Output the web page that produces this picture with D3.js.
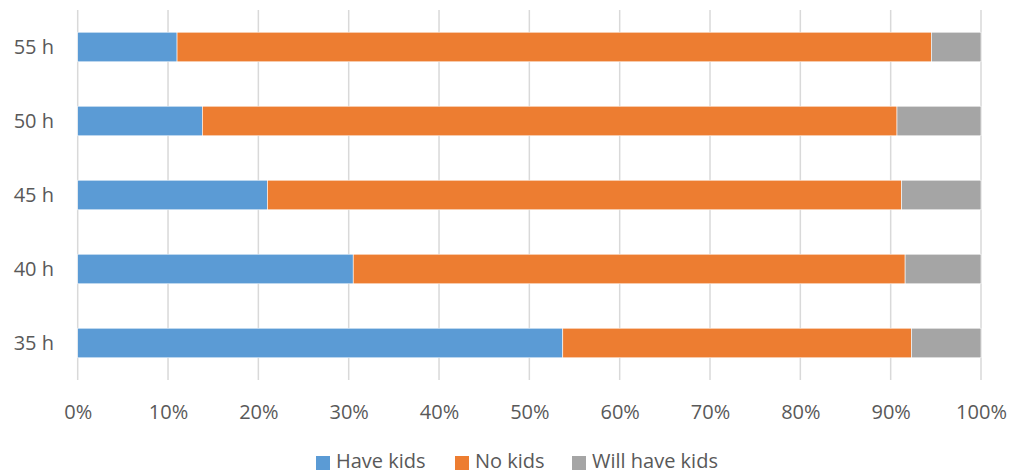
<!DOCTYPE html>
<html>
<head>
<meta charset="utf-8">
<script src="https://cdn.jsdelivr.net/npm/d3@7"></script>
<style>
  html, body { margin: 0; padding: 0; background: #fff; }
  svg { display: block; }
  text { font-family: "Open Sans", sans-serif; fill: #595959; }
</style>
</head>
<body>
<svg id="chart" width="1011" height="474"></svg>
<script>
const categories = ["55 h", "50 h", "45 h", "40 h", "35 h"];
const seriesNames = ["Have kids", "No kids", "Will have kids"];
const haveKids = [11.0, 13.8, 21.0, 30.5, 53.7];
const noKids = [83.5, 76.9, 70.2, 61.1, 38.6];
const willHaveKids = [5.5, 9.3, 8.8, 8.4, 7.7];
const colors = ["#5B9BD5", "#ED7D31", "#A5A5A5"];
const xTicks = [0, 10, 20, 30, 40, 50, 60, 70, 80, 90, 100];

(function () {
const svg = d3.select("#chart");
const plotLeft = 77.7, plotRight = 981, plotTop = 10, plotBottom = 380;

const x = d3.scaleLinear().domain([0, 100]).range([plotLeft, plotRight]);
const y = d3.scaleBand().domain(categories).range([plotTop, plotBottom]).paddingInner(0.6).paddingOuter(0.3);

// gridlines
svg.append("g").selectAll("line").data(xTicks).join("line")
  .attr("x1", d => x(d)).attr("x2", d => x(d))
  .attr("y1", plotTop).attr("y2", plotBottom)
  .attr("stroke", "#d9d9d9").attr("stroke-width", 1.5);

// stacked data
const rows = categories.map((c, i) => ({ cat: c, "Have kids": haveKids[i], "No kids": noKids[i], "Will have kids": willHaveKids[i] }));
const stack = d3.stack().keys(seriesNames)(rows);

svg.append("g").selectAll("g").data(stack).join("g")
  .attr("fill", (d, i) => colors[i])
  .selectAll("rect").data(d => d).join("rect")
  .attr("x", d => x(d[0]))
  .attr("width", d => x(d[1]) - x(d[0]))
  .attr("y", d => y(d.data.cat))
  .attr("height", y.bandwidth())
  .attr("stroke", "#fff").attr("stroke-width", 0.6);

// y labels
svg.append("g").selectAll("text").data(categories).join("text")
  .attr("x", 54).attr("y", d => y(d) + y.bandwidth() / 2 + 7)
  .attr("text-anchor", "end").attr("font-size", 20)
  .text(d => d);

// x labels
const xAxis = d3.axisBottom(x).tickValues(xTicks).tickFormat(d => d + "%").tickSize(0);
const gx = svg.append("g").attr("transform", `translate(0, ${plotBottom})`).call(xAxis);
gx.select(".domain").remove();
gx.selectAll("text").attr("font-size", 20).attr("font-family", "Open Sans, sans-serif")
  .attr("fill", "#595959").attr("dy", null).attr("y", 39);

// legend
const legendX = [316, 455, 572];
const lg = svg.append("g").selectAll("g").data(seriesNames).join("g")
  .attr("transform", (d, i) => `translate(${legendX[i]}, 0)`);
lg.append("rect").attr("x", 0).attr("y", 456).attr("width", 14).attr("height", 14)
  .attr("fill", (d, i) => colors[i]);
lg.append("text").attr("x", 20).attr("y", 468).attr("font-size", 20).text(d => d);
})();
</script>
</body>
</html>
